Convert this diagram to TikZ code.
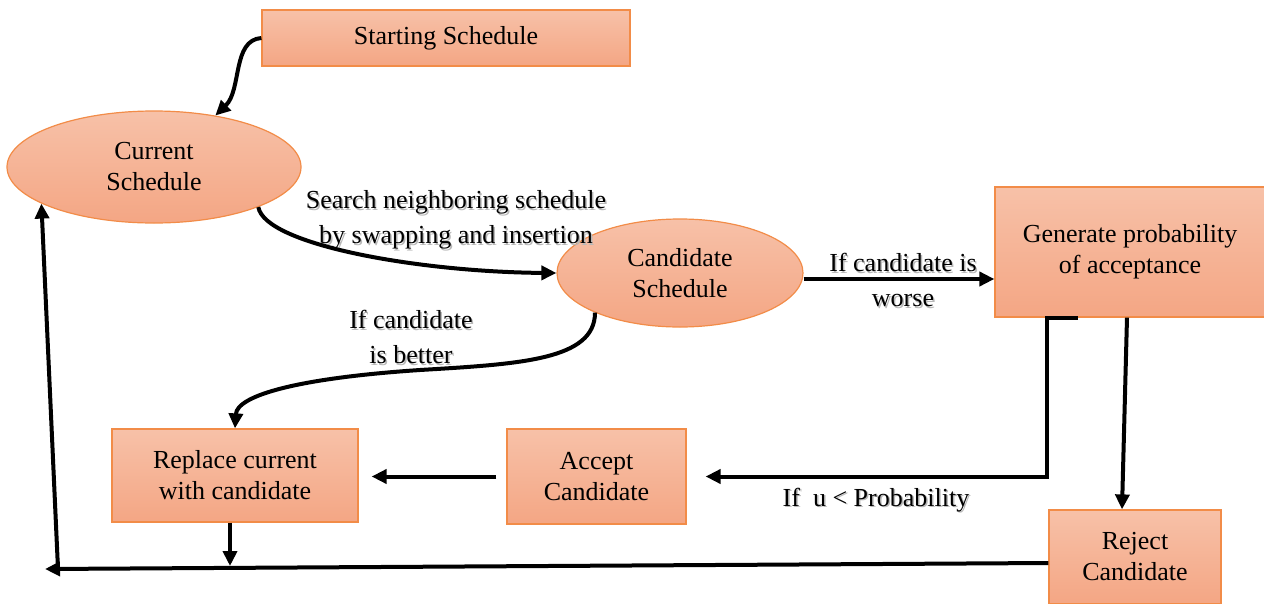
\documentclass[tikz,border=0pt]{standalone}
\usepackage{fontspec}
\setmainfont{Liberation Serif}
\usetikzlibrary{arrows.meta,shapes.geometric}
\definecolor{boxtop}{RGB}{247,193,168}
\definecolor{boxbot}{RGB}{244,166,132}
\definecolor{boxline}{RGB}{242,140,72}
\tikzset{
  block/.style={rectangle, draw=boxline, line width=1.2pt, top color=boxtop,
    bottom color=boxbot, inner sep=0pt, align=center,
    font=\fontsize{26}{31}\selectfont},
  oval/.style={block, ellipse},
  flow/.style={line width=4pt, -{Triangle[length=15pt,width=14pt]}},
  lbl/.style={align=center, inner sep=0pt, font=\fontsize{26}{35}\selectfont},
  lblshadow/.style={lbl, text=black!28, xshift=1.5pt, yshift=-1.5pt}
}
\begin{document}
\begin{tikzpicture}[x=1pt,y=-1pt]
\useasboundingbox (0,0) rectangle (1264,603);

% states and steps
\node[block, minimum width=368pt, minimum height=56pt] (S) at (446,38) {Starting Schedule};
\node[oval, minimum width=294pt, minimum height=112pt] (C) at (154,167) {Current\\Schedule};
\node[oval, minimum width=246pt, minimum height=108pt] (K) at (680,273) {Candidate\\Schedule};
\node[block, minimum width=270pt, minimum height=130pt] (G) at (1130,252) {Generate probability\\of acceptance};
\node[block, minimum width=246pt, minimum height=93pt] (R) at (235,475.5) {Replace current\\with candidate};
\node[block, minimum width=179pt, minimum height=95pt] (A) at (596.5,476.5) {Accept\\Candidate};
\node[block, minimum width=172pt, minimum height=94pt] (J) at (1135,557) {Reject\\Candidate};

% edge labels, each with a soft grey drop shadow
\node[lblshadow] (l1s) at (456,220) {Search neighboring schedule\\by swapping and insertion};
\node[lbl] (l1) at (456,220) {Search neighboring schedule\\by swapping and insertion};
\node[lblshadow] (l2s) at (903,280) {If candidate is\\worse};
\node[lbl] (l2) at (903,280) {If candidate is\\worse};
\node[lblshadow] (l3s) at (411,337) {If candidate\\is better};
\node[lbl] (l3) at (411,337) {If candidate\\is better};
\node[lblshadow] (l4s) at (876,500) {If\ \ u < Probability};
\node[lbl] (l4) at (876,500) {If\ \ u < Probability};

% helper points and free ends of the return loop
\coordinate (kout) at ([yshift=-6pt]K.east);
\coordinate (jn) at (230,566);
\coordinate (lend) at (45,569);
\coordinate (lup) at (58,569);

% connectors
\draw[flow] (S.west) .. controls (232,40) and (242,90) .. (C.40);
\draw[flow] (C.-21) .. controls (265,245) and (420,272) .. (K.west);
\draw[flow] (kout) -- (G.west |- kout);
\draw[flow] (K.205) .. controls (595,360) and (520,364) .. (420,370)
  .. controls (300,378) and (237,395) .. (R.north);
\draw[flow, shorten >=19pt] ([xshift=-52pt]G.south) -- ([xshift=-83pt]G.south) |- (A.east);
\draw[flow] ([xshift=-3pt]G.south) -- ([xshift=-13pt]J.north);
\draw[flow, shorten <=10pt, shorten >=13pt] (A.west) -- (R.east |- A.west);
\draw[flow] ([xshift=-5pt]R.south) -- (jn);
\draw[flow] ([yshift=-6pt]J.west) -- (lend);
\draw[flow] (lup) -- (C.198);
\end{tikzpicture}
\end{document}
